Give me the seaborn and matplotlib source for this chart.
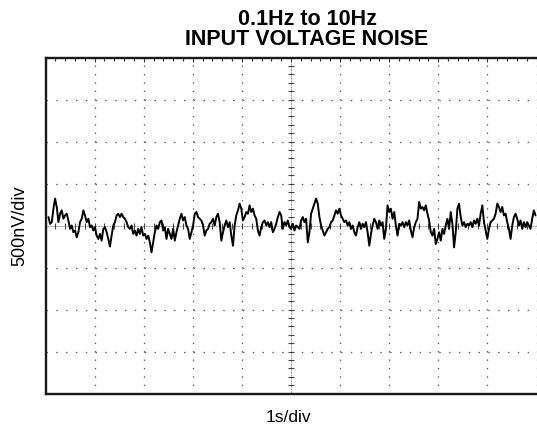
#!/usr/bin/env python3
"""0.1Hz to 10Hz input voltage noise, scope-style graticule"""

import matplotlib

matplotlib.use("Agg")
import matplotlib.pyplot as plt
import numpy as np
import pandas as pd
import seaborn as sns

T_START = 0.06   # s
T_END = 9.98     # s
noise_nv = [
    # 0 .. 2.3 s
    100, 20, 40, 200, 320, 220, 40, 140, 180, 80, 120, 140, 60, -40, 0, -80,
    -60, -140, -80, 40, 80, 180, 120, 40, 80, -20, 0, -60, -20, -120, -160,
    -100, -180, -40, -20, -80, -160, -250, -120, 0, 40, 120, 140, 100, 140,
    100, 80, 40, -20, -40, 0, -100, -60, -120, -40, -100, -20, -120, -100,
    -160, -120, -200, -320, -200, -80, 0, -40,
    # 2.3 .. 4.7 s
    40, 60, -60, -20, -160, -40, -100, -160, -40, -180, -80, 0, 80, 140, 60,
    100, 0, -40, -160, -80, 0, 140, 160, 100, 80, 60, 0, -120, -60, -40, 20,
    40, 80, 0, 100, 140, 40, -180, -80, 0, 60, -20, 40, -120, -240, 0, 120,
    180, 260, 200, 60, 100, 160, 140, 240, 160, 200, 120, 80, -60, -120, -20,
    40, 60, 0, 40, -20, 40, -80, -40, 20, 100,
    # 4.8 .. 7.2 s
    160, 120, -40, 40, 0, 60, -20, -40, 20, -60, 0, -20, -40, 60, 100, 40, 80,
    -200, -80, 140, 200, 260, 320, 260, 100, 0, -60, -120, -80, -40, -20, 40,
    60, 120, 180, 140, 200, 120, 80, 40, 60, 0, 40, -40, 0, -80, -120, -20,
    40, -40, 20, -20, 40, -80, -240, -100, 0, 80, 40, -40, 60, 0, 40, -160,
    -40, 240, 160, 200, 80, 160, 0, -120,
    # 7.2 .. 10 s
    20, 0, 40, -20, 40, 0, 60, -60, -140, -20, 40, 80, 280, 200, 220, 180,
    240, 140, 60, -80, -120, -40, -220, -160, -80, -180, -40, -100, 0, 80,
    -40, 160, 20, -260, -80, 200, 260, 100, 0, 40, -20, 20, 0, 40, -20, 60,
    20, 80, 0, 140, 240, 40, -60, -160, -40, 40, 60, 80, 140, 260, 220, 160,
    220, 120, 140, 40, -40, -160, 0, 100, 140, 80, 0, 60, -40, 40, -20, 40,
    0, -40, 80, 180, 120,
]

N_DIV_X = 10
N_DIV_Y = 8
NV_PER_DIV = 500
SUB = 5

TITLE = "0.1Hz to 10Hz\nINPUT VOLTAGE NOISE"
XLABEL = "1s/div"
YLABEL = "500nV/div"

W, H = 537, 431
DPI = 100


def main() -> None:
    sns.set_style("white")
    plt.rcParams["font.family"] = ["Liberation Sans", "DejaVu Sans"]
    plt.rcParams["text.color"] = "black"

    t = np.linspace(T_START, T_END, len(noise_nv))
    df = pd.DataFrame({"t": t, "v": noise_nv})

    fig = plt.figure(figsize=(W / DPI, H / DPI), dpi=DPI)
    # the capture is cropped at the 10th division, no right frame in view
    ax = fig.add_axes([45.5 / W, 1 - 394.5 / H, 491 / W, 336 / H])

    ymax = N_DIV_Y / 2 * NV_PER_DIV
    ax.set_xlim(0, N_DIV_X)
    ax.set_ylim(-ymax, ymax)

    ax.set_xticks(np.arange(0, N_DIV_X + 1))
    ax.set_yticks(np.arange(-ymax, ymax + 1, NV_PER_DIV))
    ax.set_xticks(np.arange(0, N_DIV_X + 1e-9, 1 / SUB), minor=True)
    ax.set_yticks(np.arange(-ymax, ymax + 1, NV_PER_DIV / SUB), minor=True)
    ax.tick_params(which="both", direction="in", top=True, right=False,
                   labelbottom=False, labelleft=False, color="#333333")
    ax.tick_params(which="major", length=3, width=0.8)
    ax.tick_params(which="minor", length=2.5, width=0.8)
    ax.grid(False)

    # dotted graticule, one dot per sub-division
    px_x = 491 / N_DIV_X / SUB * 72 / DPI
    px_y = 336 / N_DIV_Y / SUB * 72 / DPI
    for x in np.arange(1, N_DIV_X + 1):
        if x == N_DIV_X // 2:
            continue
        ax.axvline(x, color="#555555", lw=0.9, dashes=(1.1, px_y / 0.9 - 1.1),
                   clip_on=False)
    for y in np.arange(-ymax + NV_PER_DIV, ymax, NV_PER_DIV):
        if y == 0:
            continue
        ax.axhline(y, color="#555555", lw=0.9, dashes=(1.1, px_x / 0.9 - 1.1))

    # centre cross with fine dots and sub-division ticks
    ax.axhline(0, color="#777777", lw=0.7, dashes=(0.8, 0.8))
    ax.axvline(N_DIV_X / 2, color="#777777", lw=0.7, dashes=(0.8, 0.8))
    minor_x = np.arange(0, N_DIV_X + 1e-9, 1 / SUB)
    minor_y = np.arange(-ymax, ymax + 1, NV_PER_DIV / SUB)
    ax.plot(minor_x, np.zeros_like(minor_x), ls="none", marker="|",
            ms=4, mew=0.8, color="#444444")
    ax.plot(np.full_like(minor_y, N_DIV_X / 2), minor_y, ls="none",
            marker="_", ms=4, mew=0.8, color="#444444")

    sns.lineplot(data=df, x="t", y="v", ax=ax, color="black", lw=1.4,
                 estimator=None, sort=False)
    ax.set_xlabel("")
    ax.set_ylabel("")

    for name, s in ax.spines.items():
        s.set_visible(name != "right")
        s.set_color("#1a1a1a")
        s.set_linewidth(1.7)
    ax.spines["top"].set_bounds(0, N_DIV_X * 1.05)
    ax.spines["bottom"].set_bounds(0, N_DIV_X * 1.05)

    fig.text(307 / W, 1 - 45 / H, TITLE, ha="center", va="baseline",
             fontsize=15.5, fontweight="bold", linespacing=0.95)
    fig.text(288 / W, 1 - 418 / H, XLABEL, ha="center", va="center",
             fontsize=12.5)
    fig.text(20 / W, 1 - 226 / H, YLABEL, ha="center", va="center",
             fontsize=13, rotation=90)

    fig.savefig("out.png", dpi=DPI)
    plt.close(fig)


if __name__ == "__main__":
    main()
